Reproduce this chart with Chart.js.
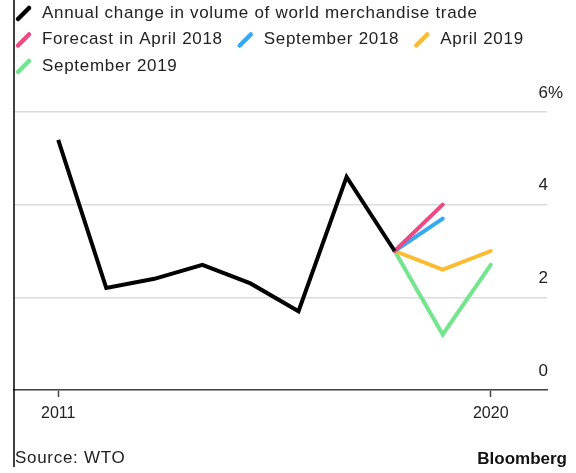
<!DOCTYPE html>
<html>
<head>
<meta charset="utf-8">
<script src="https://cdn.jsdelivr.net/npm/chart.js@4"></script>
<style>
  html, body { margin: 0; padding: 0; background: #fff; }
  canvas { display: block; }
</style>
</head>
<body>
<canvas id="tradeChart" width="576" height="473"></canvas>
<script>
// Data
const years = [2011, 2012, 2013, 2014, 2015, 2016, 2017, 2018];
const actual = [5.4, 2.2, 2.4, 2.7, 2.3, 1.7, 4.6, 3.0];
const forecastYears = [2018, 2019, 2020];
const forecastApr2018 = [3.0, 4.0];
const forecastSep2018 = [3.0, 3.7];
const forecastApr2019 = [3.0, 2.6, 3.0];
const forecastSep2019 = [3.0, 1.2, 2.7];
const yTicks = [0, 2, 4, 6];
const xTicks = [2011, 2020];

const seriesLabels = ['Annual change in volume of world merchandise trade',
    'Forecast in April 2018', 'September 2018', 'April 2019', 'September 2019'];
const seriesColors = ['#000000', '#ec4a84', '#35a9f4', '#fdbb2f', '#72e58d'];
const legendRows = [[0], [1, 2, 3], [4]];

function toPoints(xs, ys) {
    return ys.map((y, i) => ({ x: xs[i], y: y }));
}

const FONT = '"Liberation Sans", Arial, sans-serif';

const extras = {
    id: 'extras',
    afterDraw(chart) {
        const ctx = chart.ctx;
        const area = chart.chartArea;
        const yScale = chart.scales.y;
        ctx.save();

        // left frame line
        ctx.strokeStyle = '#000';
        ctx.lineWidth = 1.5;
        ctx.beginPath();
        ctx.moveTo(14, 0);
        ctx.lineTo(14, 467);
        ctx.stroke();

        // y labels, above gridlines on the right
        ctx.fillStyle = '#222';
        ctx.font = '17px ' + FONT;
        ctx.textBaseline = 'middle';
        yTicks.forEach(v => {
            const y = yScale.getPixelForValue(v) - 19;
            ctx.textAlign = 'right';
            ctx.fillText(String(v), area.right + 1, y);
            if (v === yTicks[yTicks.length - 1]) {
                ctx.textAlign = 'left';
                ctx.fillText('%', area.right + 1, y);
            }
        });

        // legend
        if ('letterSpacing' in ctx) ctx.letterSpacing = '0.7px';
        ctx.textAlign = 'left';
        legendRows.forEach((row, r) => {
            const cy = 13 + r * 26.5;
            let x = 16;
            row.forEach(idx => {
                ctx.strokeStyle = seriesColors[idx];
                ctx.lineWidth = 4.5;
                ctx.lineCap = 'round';
                ctx.beginPath();
                ctx.moveTo(x + 2, cy + 6);
                ctx.lineTo(x + 13, cy - 5);
                ctx.stroke();
                ctx.fillStyle = '#222';
                ctx.fillText(seriesLabels[idx], x + 26, cy);
                x += 26 + ctx.measureText(seriesLabels[idx]).width + 15;
            });
        });

        // footer
        ctx.fillStyle = '#222';
        ctx.fillText('Source: WTO', 15, 458);
        ctx.font = 'bold 17px ' + FONT;
        if ('letterSpacing' in ctx) ctx.letterSpacing = '0px';
        ctx.textAlign = 'right';
        ctx.fillStyle = '#111';
        ctx.fillText('Bloomberg', 567, 459);
        ctx.restore();
    }
};

const ctx = document.getElementById('tradeChart').getContext('2d');
const chart = new Chart(ctx, {
    type: 'line',
    data: {
        datasets: [
            { label: seriesLabels[0], data: toPoints(years, actual), borderColor: seriesColors[0], borderWidth: 4, borderJoinStyle: 'miter' },
            { label: seriesLabels[1], data: toPoints(forecastYears, forecastApr2018), borderColor: seriesColors[1], borderWidth: 4, borderCapStyle: 'round' },
            { label: seriesLabels[2], data: toPoints(forecastYears, forecastSep2018), borderColor: seriesColors[2], borderWidth: 4, borderCapStyle: 'round' },
            { label: seriesLabels[3], data: toPoints(forecastYears, forecastApr2019), borderColor: seriesColors[3], borderWidth: 4, borderCapStyle: 'round' },
            { label: seriesLabels[4], data: toPoints(forecastYears, forecastSep2019), borderColor: seriesColors[4], borderWidth: 4, borderCapStyle: 'round' }
        ]
    },
    options: {
        responsive: false,
        animation: false,
        elements: { point: { radius: 0 }, line: { tension: 0 } },
        layout: { padding: { top: 112, left: 14, right: 29, bottom: 0 } },
        plugins: { legend: { display: false }, tooltip: { enabled: false } },
        scales: {
            x: {
                type: 'linear',
                min: 2010.08,
                max: 2021.17,
                afterBuildTicks: scale => { scale.ticks = xTicks.map(v => ({ value: v })); },
                afterFit: scale => { scale.height = 83; },
                ticks: {
                    color: '#222',
                    font: { size: 16, family: FONT },
                    padding: 7,
                    maxRotation: 0,
                    callback: v => String(v)
                },
                grid: { drawOnChartArea: false, tickLength: 7, tickColor: '#444', tickWidth: 1.5 },
                border: { color: '#444', width: 1.5 }
            },
            y: {
                min: 0,
                max: 6,
                afterBuildTicks: scale => { scale.ticks = yTicks.map(v => ({ value: v })); },
                afterFit: scale => { scale.width = 0; },
                ticks: { display: false },
                grid: { color: '#dcdcdc', lineWidth: 1.5, drawTicks: false },
                border: { display: false }
            }
        }
    },
    plugins: [extras]
});
</script>
</body>
</html>
